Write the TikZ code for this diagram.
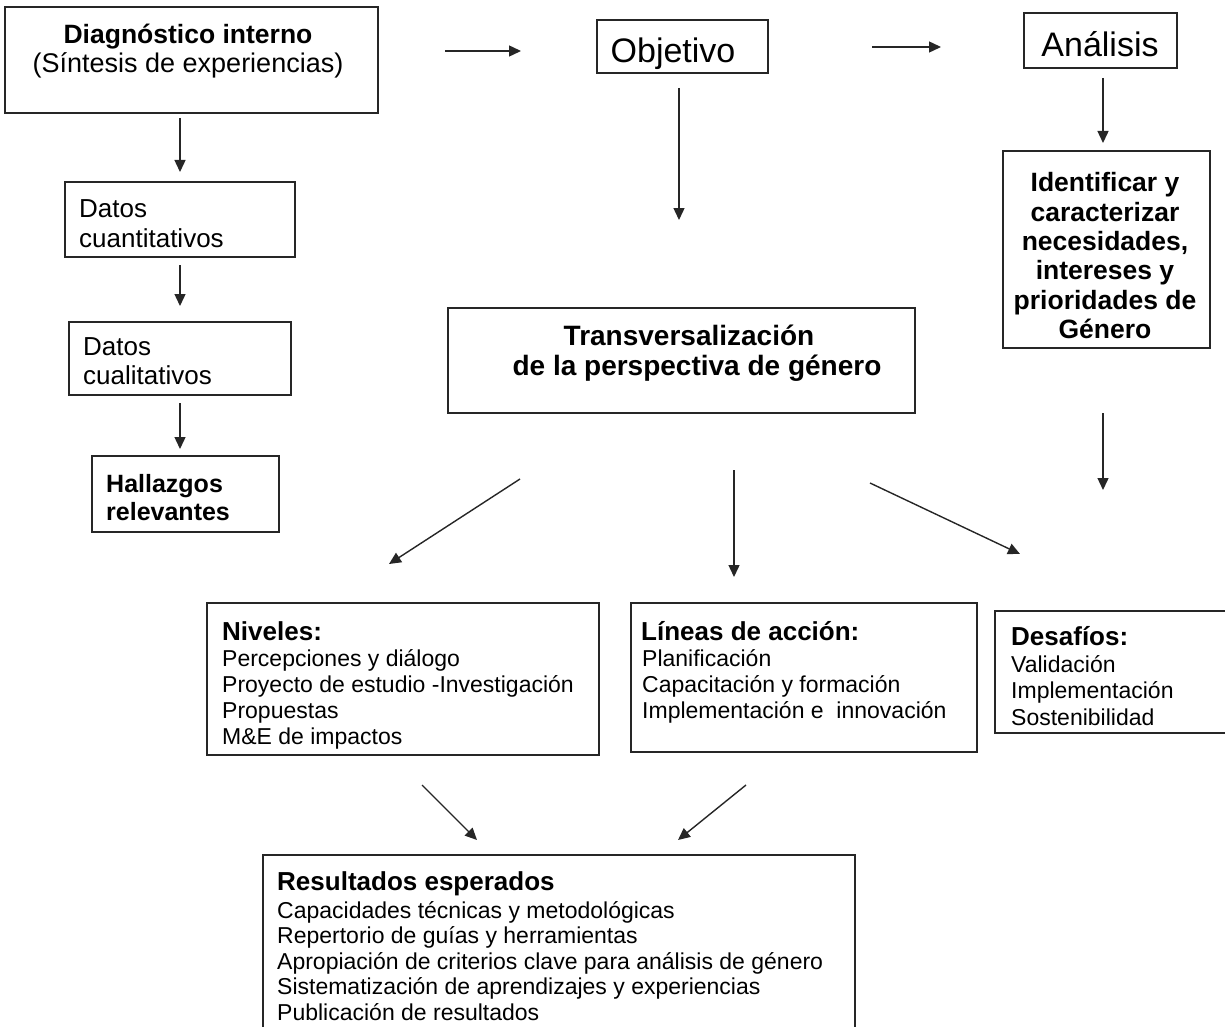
\documentclass[tikz,border=0pt]{standalone}
\usepackage{fontspec}
\setmainfont{Liberation Sans}
\usetikzlibrary{arrows.meta}

\newcommand{\fsz}[1]{\fontsize{#1}{#1}\selectfont}

\tikzset{
  box/.style={draw=black!85, line width=1.4pt, inner sep=0pt},
  arr/.style={draw=black!85, line width=1.4pt, -{Triangle[length=12pt,width=11pt]}},
  ln/.style={inner sep=0pt, anchor=base west, font=\fsz{23}},
  hd/.style={inner sep=0pt, anchor=base west, font=\fsz{26}\bfseries},
  ctr/.style={inner sep=0pt, anchor=base},
}

\begin{document}
\begin{tikzpicture}[x=1pt,y=-1pt]
  \useasboundingbox (0,0) rectangle (1225,1027);
  \clip (0,0) rectangle (1225,1027);
  % cajas
  \node[box, minimum width=373, minimum height=106] (diag) at (191.5,60) {};
  \node[box, minimum width=171, minimum height=53] (obj) at (682.5,46.5) {};
  \node[box, minimum width=153, minimum height=55] (ana) at (1100.5,40.5) {};
  \node[box, minimum width=207, minimum height=197] (ident) at (1106.5,249.5) {};
  \node[box, minimum width=230, minimum height=75] (cuant) at (180,219.5) {};
  \node[box, minimum width=222, minimum height=73] (cual) at (180,358.5) {};
  \node[box, minimum width=187, minimum height=76] (hall) at (185.5,494) {};
  \node[box, minimum width=467, minimum height=105] (trans) at (681.5,360.5) {};
  \node[box, minimum width=392, minimum height=152] (niv) at (403,679) {};
  \node[box, minimum width=346, minimum height=149] (lin) at (804,677.5) {};
  \node[box, minimum width=245, minimum height=122] (des) at (1117.5,672) {};
  \node[box, minimum width=592, minimum height=185] (res) at (559,947.5) {};

  % textos
  \node[ctr, font=\fsz{26.5}\bfseries] (diag-t) at (188,44) {Diagnóstico interno};
  \node[ctr, font=\fsz{27}] (diag-s) at (188,73) {(Síntesis de experiencias)};
  \node[ctr, font=\fsz{34}] (obj-t) at (673,63) {Objetivo};
  \node[ctr, font=\fsz{34}] (ana-t) at (1100,57) {Análisis};
  \foreach \t [count=\i] in {Identificar y, caracterizar, {necesidades,}, intereses y, prioridades de, Género}
    \node[ctr, font=\fsz{26.5}\bfseries] (ident-\i) at (1105,{192+29.3*(\i-1)}) {\t};
  \node[ln, font=\fsz{26}] (cuant-1) at (79,217) {Datos};
  \node[ln, font=\fsz{26}] (cuant-2) at (79,247) {cuantitativos};
  \node[ln, font=\fsz{26}] (cual-1) at (83,355) {Datos};
  \node[ln, font=\fsz{26}] (cual-2) at (83,384) {cualitativos};
  \node[ln, font=\fsz{25}\bfseries] (hall-1) at (106,492) {Hallazgos};
  \node[ln, font=\fsz{25}\bfseries] (hall-2) at (106,520) {relevantes};
  \node[ctr, font=\fsz{28}\bfseries] (trans-1) at (689,345) {Transversalización};
  \node[ctr, font=\fsz{28}\bfseries] (trans-2) at (697,375) {de la perspectiva de género};

  \node[hd] (niv-h) at (222,640) {Niveles:};
  \foreach \t [count=\i] in {Percepciones y diálogo, Proyecto de estudio -Investigación, Propuestas, M\&E de impactos}
    \node[ln] (niv-\i) at (222,{666+26*(\i-1)}) {\t};
  \node[hd] (lin-h) at (641,640) {Líneas de acción:};
  \foreach \t [count=\i] in {Planificación, Capacitación y formación, Implementación e~ innovación}
    \node[ln] (lin-\i) at (642,{666+26*(\i-1)}) {\t};
  \node[hd] (des-h) at (1011,645) {Desafíos:};
  \foreach \t [count=\i] in {Validación, Implementación, Sostenibilidad}
    \node[ln] (des-\i) at (1011,{672+26.5*(\i-1)}) {\t};
  \node[hd] (res-h) at (277,890) {Resultados esperados};
  \foreach \t [count=\i] in {Capacidades técnicas y metodológicas, Repertorio de guías y herramientas, Apropiación de criterios clave para análisis de género, Sistematización de aprendizajes y experiencias, Publicación de resultados}
    \node[ln] (res-\i) at (277,{918+25.5*(\i-1)}) {\t};

  % flechas (extremos libres)
  \coordinate (f1a) at (445,51);   \coordinate (f1b) at (521,51);
  \coordinate (f2a) at (872,47);   \coordinate (f2b) at (941,47);
  \coordinate (f3a) at (180,118);  \coordinate (f3b) at (180,172);
  \coordinate (f4a) at (180,265);  \coordinate (f4b) at (180,306);
  \coordinate (f5a) at (180,403);  \coordinate (f5b) at (180,449);
  \coordinate (f6a) at (679,88);   \coordinate (f6b) at (679,220);
  \coordinate (f7a) at (1103,78);  \coordinate (f7b) at (1103,143);
  \coordinate (f8a) at (1103,413); \coordinate (f8b) at (1103,490);
  \coordinate (f9a) at (520,479);  \coordinate (f9b) at (389,564);
  \coordinate (f10a) at (734,470); \coordinate (f10b) at (734,577);
  \coordinate (f11a) at (870,483); \coordinate (f11b) at (1020,554);
  \coordinate (f12a) at (422,785); \coordinate (f12b) at (477,840);
  \coordinate (f13a) at (746,785); \coordinate (f13b) at (678,840);
  \foreach \k in {1,...,13}
    \draw[arr] (f\k a) -- (f\k b);
\end{tikzpicture}
\end{document}
